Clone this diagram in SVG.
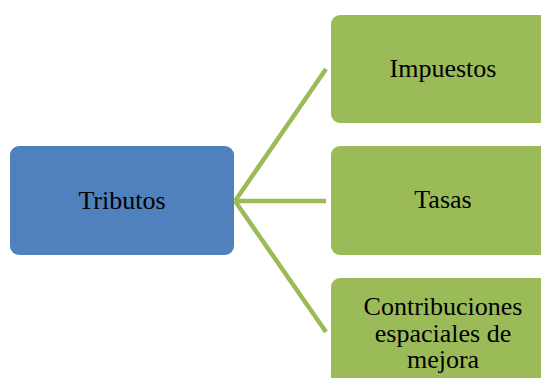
<svg xmlns="http://www.w3.org/2000/svg" width="541" height="378" viewBox="0 0 541 378">
<style>
.blue{fill:#4F81BD;}
.green{fill:#9BBB59;}
.lbl{font-family:"Liberation Serif","Times New Roman",serif;font-size:26px;fill:#000;text-anchor:middle;}
.conn{stroke:#9BBB59;stroke-width:4.5;fill:none;}
</style>
<rect width="541" height="378" fill="#fff"/>
<g id="connectors">
<line class="conn" x1="235" y1="201" x2="326" y2="69"/>
<line class="conn" x1="235" y1="201" x2="326" y2="201"/>
<line class="conn" x1="235" y1="201" x2="326" y2="332"/>
</g>
<g id="tributos">
<rect class="blue" x="10" y="146" width="224" height="109" rx="9"/>
<text class="lbl" x="122" y="209">Tributos</text>
</g>
<g id="impuestos">
<rect class="green" x="331" y="15" width="224" height="108" rx="9"/>
<text class="lbl" x="443" y="77">Impuestos</text>
</g>
<g id="tasas">
<rect class="green" x="331" y="146" width="224" height="109" rx="9"/>
<text class="lbl" x="443" y="208">Tasas</text>
</g>
<g id="contribuciones">
<rect class="green" x="331" y="278" width="224" height="109" rx="9"/>
<text class="lbl" x="443" y="315">Contribuciones</text>
<text class="lbl" x="443" y="341.5">espaciales de</text>
<text class="lbl" x="443" y="368">mejora</text>
</g>
</svg>
